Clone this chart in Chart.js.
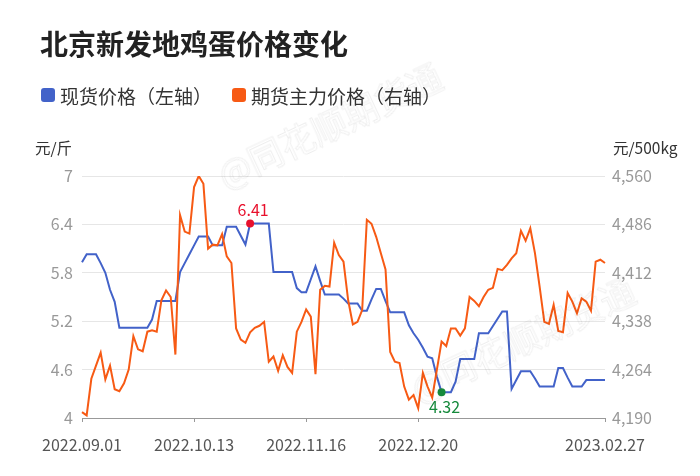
<!DOCTYPE html>
<html>
<head>
<meta charset="utf-8">
<script src="https://cdn.jsdelivr.net/npm/chart.js@4"></script>
<style>
html,body{margin:0;padding:0;background:#fff;}
#wrap{position:relative;width:700px;height:476px;overflow:hidden;font-family:'Noto Sans CJK SC','Noto Sans',sans-serif;}
#c{position:absolute;left:0;top:0;}
.title{position:absolute;left:40px;top:27px;font-size:28px;font-weight:700;color:#222;line-height:33px;white-space:nowrap;}
.li{position:absolute;top:84px;font-size:19px;color:#333;line-height:23px;white-space:nowrap;}
.sw{position:absolute;left:0;top:4px;width:14px;height:14px;border-radius:3px;}
.li span.t{position:absolute;left:19px;top:0;}
.unit{position:absolute;top:137px;font-size:15.5px;color:#333;line-height:20px;white-space:nowrap;}
.wm{position:absolute;font-size:35px;color:transparent;-webkit-text-stroke:1px rgba(0,0,0,.065);transform:translate(-50%,-50%) rotate(-25deg);white-space:nowrap;pointer-events:none;}
</style>
</head>
<body>
<div id="wrap">
  <canvas id="c" width="700" height="476"></canvas>
  <div class="title">北京新发地鸡蛋价格变化</div>
  <div class="li" style="left:41px"><i class="sw" style="background:#4262c9"></i><span class="t">现货价格（左轴）</span></div>
  <div class="li" style="left:232px"><i class="sw" style="background:#f75a14"></i><span class="t">期货主力价格（右轴）</span></div>
  <div class="unit" style="left:35px">元/斤</div>
  <div class="unit" style="left:613px">元/500kg</div>
  <div class="wm" style="left:329px;top:124px">@同花顺期货通</div>
  <div class="wm" style="left:522px;top:338px">@同花顺期货通</div>
</div>
<script>
// ===== 数据 =====
const SPOT = [
  5.93,6.03,6.03,6.03,5.92,5.80,5.59,5.44,5.12,5.12,
  5.12,5.12,5.12,5.12,5.12,5.22,5.45,5.45,5.45,5.45,
  5.45,5.81,5.92,6.03,6.14,6.25,6.25,6.25,6.14,6.14,
  6.14,6.37,6.37,6.37,6.26,6.15,6.41,6.41,6.41,6.41,
  6.41,5.81,5.81,5.81,5.81,5.81,5.61,5.56,5.56,5.72,
  5.88,5.70,5.53,5.53,5.53,5.53,5.48,5.42,5.42,5.42,
  5.33,5.33,5.47,5.60,5.60,5.45,5.31,5.31,5.31,5.31,
  5.15,5.05,4.97,4.87,4.76,4.74,4.51,4.32,4.32,4.32,
  4.45,4.73,4.73,4.73,4.73,5.05,5.05,5.05,5.14,5.23,
  5.32,5.32,4.36,4.47,4.58,4.58,4.58,4.49,4.39,4.39,
  4.39,4.39,4.62,4.62,4.50,4.39,4.39,4.39,4.47,4.47,
  4.47,4.47,4.47
];
const FUTURES = [
  4199,4194,4250,4270,4290,4249,4270,4234,4231,4243,
  4264,4315,4295,4292,4322,4324,4322,4370,4385,4375,
  4287,4500,4475,4472,4543,4560,4548,4449,4455,4454,
  4471,4437,4427,4327,4310,4305,4321,4328,4331,4337,
  4276,4284,4262,4286,4268,4259,4322,4337,4356,4345,
  4257,4386,4392,4391,4458,4439,4429,4370,4333,4337,
  4355,4493,4487,4467,4442,4417,4291,4276,4274,4238,
  4218,4225,4205,4259,4238,4221,4264,4307,4300,4327,
  4327,4316,4327,4375,4369,4361,4375,4386,4389,4418,
  4416,4424,4434,4442,4476,4461,4480,4442,4391,4337,
  4334,4363,4323,4321,4381,4368,4350,4373,4368,4354,
  4429,4432,4427
];
const TICK_IDX = [0,24,48,72,112];
const TICK_TEXT = ['2022.09.01','2022.10.13','2022.11.16','2022.12.20','2023.02.27'];
const LEFT_TICKS = [4,4.6,5.2,5.8,6.4,7];
const RIGHT_TICKS = [4190,4264,4338,4412,4486,4560];
const C = {blue:'#4262c9',orange:'#f75a14',grid:'#e6e6e6',axis:'#999',tick:'#999',xlab:'#555',red:'#e8102c',green:'#168a3c'};

const LABELS = SPOT.map((v,i)=>String(i));
const MAX_I = SPOT.indexOf(Math.max(...SPOT));
const MIN_I = SPOT.indexOf(Math.min(...SPOT));

Chart.defaults.font.family = "'Noto Sans CJK SC', 'Noto Sans', sans-serif";

// 最高/最低点标注
const peakLabels = {
  id:'peakLabels',
  afterDatasetsDraw(chart){
    const meta = chart.getDatasetMeta(0), ctx = chart.ctx;
    [[MAX_I,C.red,-14],[MIN_I,C.green,15]].forEach(([i,col,dy])=>{
      const p = meta.data[i];
      ctx.save();
      ctx.fillStyle = col;
      ctx.beginPath(); ctx.arc(p.x,p.y,4,0,Math.PI*2); ctx.fill();
      ctx.font = "16px 'Noto Sans CJK SC'";
      ctx.textAlign = 'center'; ctx.textBaseline = 'middle';
      ctx.fillText(SPOT[i].toFixed(2), p.x+3, p.y+dy);
      ctx.restore();
    });
  }
};

new Chart(document.getElementById('c'), {
  type:'line',
  data:{labels:LABELS, datasets:[
    {label:'现货价格（左轴）', data:SPOT, yAxisID:'yL', borderColor:C.blue, borderWidth:2, pointRadius:0, tension:0, order:1},
    {label:'期货主力价格（右轴）', data:FUTURES, yAxisID:'yR', borderColor:C.orange, borderWidth:2, pointRadius:0, tension:0, order:0}
  ]},
  options:{
    responsive:false, animation:false, devicePixelRatio:1,
    layout:{padding:{top:176,left:0,right:0,bottom:0}},
    plugins:{legend:{display:false}, tooltip:{enabled:false}},
    scales:{
      x:{
        grid:{drawOnChartArea:false, tickLength:4, tickColor:c=>TICK_IDX.includes(c.index)?C.axis:'rgba(0,0,0,0)'},
        border:{display:true, color:C.axis, width:1},
        ticks:{autoSkip:false, maxRotation:0, minRotation:0, padding:13, color:C.xlab, font:{size:16},
          callback:(v,i)=>{const k=TICK_IDX.indexOf(i); return k<0?'':TICK_TEXT[k];}},
        afterFit:s=>{s.height=58;}
      },
      yL:{
        position:'left', min:4, max:7,
        afterBuildTicks:s=>{s.ticks=LEFT_TICKS.map(v=>({value:v}));},
        grid:{color:C.grid, drawTicks:false},
        border:{display:false},
        ticks:{padding:9, color:C.tick, font:{size:16}, callback:v=>String(+v.toFixed(1))},
        afterFit:s=>{s.width=82;}
      },
      yR:{
        position:'right', min:4190, max:4560,
        afterBuildTicks:s=>{s.ticks=RIGHT_TICKS.map(v=>({value:v}));},
        grid:{drawOnChartArea:false, drawTicks:false},
        border:{display:false},
        ticks:{padding:7, color:C.tick, font:{size:16}, callback:v=>v.toLocaleString('en-US')},
        afterFit:s=>{s.width=95;}
      }
    }
  },
  plugins:[peakLabels]
});
</script>
</body>
</html>
